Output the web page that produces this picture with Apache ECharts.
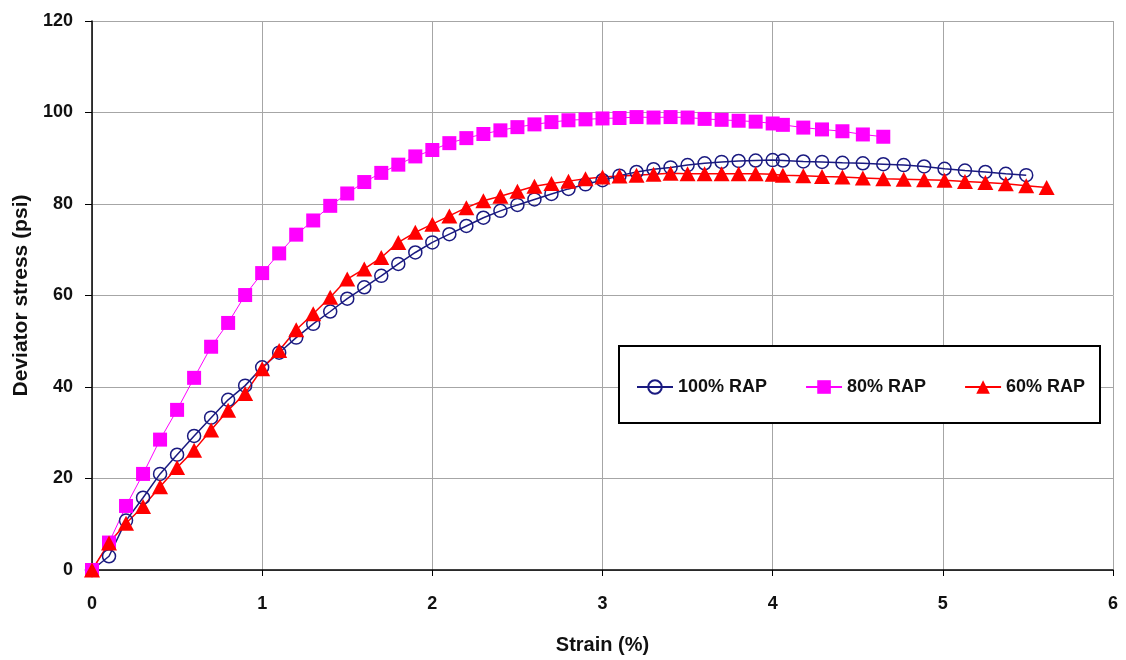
<!DOCTYPE html>
<html>
<head>
<meta charset="utf-8">
<script src="https://cdn.jsdelivr.net/npm/echarts@6/dist/echarts.min.js"></script>
<style>
html,body{margin:0;padding:0;background:#fff;}
#chart{width:1126px;height:660px;}
</style>
</head>
<body>
<div id="chart"></div>
<script>
// ---- data ----
var strain100 = [0,0.1,0.2,0.3,0.4,0.5,0.6,0.7,0.8,0.9,1.0,1.1,1.2,1.3,1.4,1.5,1.6,1.7,1.8,1.9,2.0,2.1,2.2,2.3,2.4,2.5,2.6,2.7,2.8,2.9,3.0,3.1,3.2,3.3,3.4,3.5,3.6,3.7,3.8,3.9,4.0,4.06,4.18,4.29,4.41,4.53,4.65,4.77,4.89,5.01,5.13,5.25,5.37,5.49];
var stress100 = [0,3.0,10.8,15.8,21.0,25.2,29.3,33.3,37.2,40.3,44.3,47.5,50.8,53.8,56.5,59.3,61.8,64.3,66.9,69.4,71.6,73.4,75.2,77.0,78.5,79.8,81.0,82.2,83.3,84.3,85.2,86.2,87.0,87.6,88.0,88.5,88.9,89.2,89.4,89.5,89.6,89.5,89.3,89.2,89.0,88.9,88.7,88.5,88.2,87.7,87.3,87.0,86.6,86.3];

var strain80 = [0,0.1,0.2,0.3,0.4,0.5,0.6,0.7,0.8,0.9,1.0,1.1,1.2,1.3,1.4,1.5,1.6,1.7,1.8,1.9,2.0,2.1,2.2,2.3,2.4,2.5,2.6,2.7,2.8,2.9,3.0,3.1,3.2,3.3,3.4,3.5,3.6,3.7,3.8,3.9,4.0,4.06,4.18,4.29,4.41,4.53,4.65];
var stress80 = [0,6.0,14.0,21.0,28.5,35.0,42.0,48.8,54.0,60.1,64.9,69.2,73.3,76.4,79.6,82.3,84.8,86.8,88.6,90.4,91.8,93.3,94.4,95.3,96.1,96.8,97.4,97.9,98.3,98.5,98.7,98.8,99.0,98.9,99.0,98.9,98.6,98.4,98.2,98.0,97.6,97.3,96.7,96.3,95.9,95.2,94.7];

var strain60 = [0,0.1,0.2,0.3,0.4,0.5,0.6,0.7,0.8,0.9,1.0,1.1,1.2,1.3,1.4,1.5,1.6,1.7,1.8,1.9,2.0,2.1,2.2,2.3,2.4,2.5,2.6,2.7,2.8,2.9,3.0,3.1,3.2,3.3,3.4,3.5,3.6,3.7,3.8,3.9,4.0,4.06,4.18,4.29,4.41,4.53,4.65,4.77,4.89,5.01,5.13,5.25,5.37,5.49,5.61];
var stress60 = [0,5.9,10.2,13.9,18.2,22.4,26.2,30.6,34.9,38.6,44.0,48.0,52.5,56.0,59.6,63.6,65.8,68.3,71.6,73.8,75.6,77.4,79.2,80.7,81.7,82.8,83.9,84.5,85.0,85.5,85.9,86.1,86.3,86.5,86.7,86.6,86.6,86.6,86.6,86.6,86.5,86.3,86.2,86.0,85.9,85.7,85.5,85.4,85.3,85.2,84.9,84.7,84.4,84.0,83.6];

var seriesNames = ['100% RAP','80% RAP','60% RAP'];
var xTicks = {min:0, max:6, interval:1};
var yTicks = {min:0, max:120, interval:20};
var xTitle = 'Strain (%)';
var yTitle = 'Deviator stress (psi)';

function pairs(xs, ys){ var out=[]; for(var i=0;i<xs.length;i++){ out.push([xs[i], ys[i]]); } return out; }

var FONT = "'Liberation Sans', Arial, sans-serif";
var chart = echarts.init(document.getElementById('chart'), null, {renderer:'canvas'});
chart.setOption({
  animation:false,
  backgroundColor:'#fff',
  grid:{left:92, right:13, top:21, bottom:88, containLabel:false},
  graphic:[{
    type:'rect', z:100,
    shape:{x:619, y:346, width:481, height:77},
    style:{fill:'#fff', stroke:'#000', lineWidth:2}
  }],
  legend:{
    z:110,
    left:636, top:378, padding:0,
    itemWidth:36, itemHeight:17, itemGap:38,
    textStyle:{fontFamily:FONT, fontSize:18, fontWeight:'bold', color:'#111'},
    data:seriesNames
  },
  xAxis:{
    type:'value', min:xTicks.min, max:xTicks.max, interval:xTicks.interval,
    name:xTitle, nameLocation:'middle', nameGap:65,
    nameTextStyle:{fontFamily:FONT, fontSize:20, fontWeight:'bold', color:'#111'},
    axisLine:{show:true, onZero:false, lineStyle:{color:'#000', width:1.5}},
    axisTick:{show:true, inside:false, length:6, lineStyle:{color:'#000', width:1}},
    axisLabel:{margin:25, fontFamily:FONT, fontSize:18, fontWeight:'bold', color:'#111'},
    splitLine:{show:true, lineStyle:{color:'#a6a6a6', width:1}}
  },
  yAxis:{
    type:'value', min:yTicks.min, max:yTicks.max, interval:yTicks.interval,
    name:yTitle, nameLocation:'middle', nameGap:60, nameRotate:90,
    nameTextStyle:{fontFamily:FONT, fontSize:21, fontWeight:'bold', color:'#111'},
    axisLine:{show:true, onZero:false, lineStyle:{color:'#000', width:1.5}},
    axisTick:{show:true, inside:false, length:7, lineStyle:{color:'#000', width:1}},
    axisLabel:{margin:19, fontFamily:FONT, fontSize:18, fontWeight:'bold', color:'#111'},
    splitLine:{show:true, lineStyle:{color:'#a6a6a6', width:1}}
  },
  series:[
    {
      name:seriesNames[0], type:'line', clip:false,
      data:pairs(strain100, stress100),
      symbol:'circle', symbolSize:13,
      lineStyle:{color:'#1a1a80', width:1.5},
      itemStyle:{color:'rgba(255,255,255,0)', borderColor:'#1a1a80', borderWidth:1.5}
    },
    {
      name:seriesNames[1], type:'line', clip:false,
      data:pairs(strain80, stress80),
      symbol:'rect', symbolSize:14,
      lineStyle:{color:'#ff00ff', width:1},
      itemStyle:{color:'#ff00ff', borderWidth:0}
    },
    {
      name:seriesNames[2], type:'line', clip:false,
      data:pairs(strain60, stress60),
      symbol:'triangle', symbolSize:[16,15],
      lineStyle:{color:'#ff0000', width:1.5},
      itemStyle:{color:'#ff0000', borderWidth:0}
    }
  ]
});
</script>
</body>
</html>
